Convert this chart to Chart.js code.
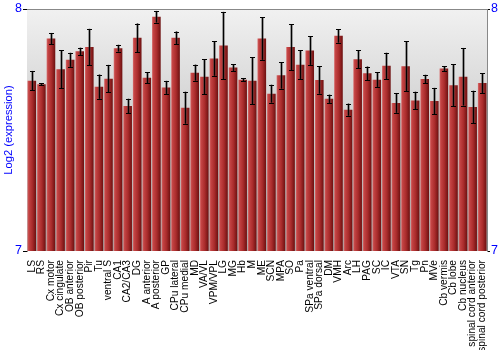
<!DOCTYPE html>
<html>
<head>
<meta charset="utf-8">
<script src="https://cdn.jsdelivr.net/npm/chart.js@4/dist/chart.umd.min.js"></script>
<style>
  body { margin: 0; background: #fff; }
  #wrap { width: 500px; height: 350px; }
</style>
</head>
<body>
<div id="wrap"><canvas id="chart" width="500" height="350"></canvas></div>
<script>
const regions = ["LS", "RS", "Cx motor", "Cx cingulate", "OB anterior", "OB posterior", "Pir", "Tu",
  "ventral S", "CA1", "CA2/CA3", "DG", "A anterior", "A posterior", "GP", "CPu lateral", "CPu medial",
  "MD", "VA/VL", "VPM/VPL", "LG", "MG", "Hb", "M", "ME", "SCN", "MPA", "SO", "Pa", "SPa ventral",
  "SPa dorsal", "DM", "VMH", "Arc", "LH", "PAG", "SC", "IC", "VTA", "SN", "Tg", "Pn", "MVe",
  "Cb vermis", "Cb lobe", "Cb nucleus", "spinal cord anterior", "spinal cord posterior"]

const expression = [7.704, 7.689, 7.878, 7.751, 7.790, 7.825, 7.843, 7.679,
  7.712, 7.838, 7.599, 7.881, 7.716, 7.968, 7.676, 7.881, 7.592,
  7.737, 7.720, 7.795, 7.849, 7.758, 7.708, 7.703, 7.878, 7.650, 7.726, 7.843, 7.770, 7.828,
  7.707, 7.629, 7.889, 7.584, 7.792, 7.734, 7.708, 7.765, 7.612, 7.763, 7.622, 7.711, 7.620,
  7.754, 7.685, 7.720, 7.595, 7.694]

const errors = [0.040, 0.005, 0.023, 0.078, 0.029, 0.015, 0.075, 0.050,
  0.057, 0.014, 0.030, 0.059, 0.023, 0.024, 0.027, 0.026, 0.066,
  0.033, 0.073, 0.071, 0.139, 0.014, 0.007, 0.097, 0.088, 0.037, 0.055, 0.095, 0.059, 0.059,
  0.057, 0.017, 0.028, 0.025, 0.037, 0.028, 0.030, 0.054, 0.041, 0.103, 0.036, 0.017, 0.054,
  0.010, 0.087, 0.119, 0.067, 0.041]

const yTicks = [7, 8]

const blue = "#0000ff"
const font = "'Liberation Sans', Arial, sans-serif"

// gray gradient behind the bars
const backdrop = {
  id: "backdrop",
  beforeDatasetsDraw(chart) {
    const { ctx, chartArea: a } = chart
    const g = ctx.createLinearGradient(0, a.top, 0, a.bottom)
    g.addColorStop(0, "#f1f1f1")
    g.addColorStop(1, "#a9a9a9")
    ctx.save()
    ctx.fillStyle = g
    ctx.fillRect(a.left, a.top, a.right - a.left, a.bottom - a.top)
    ctx.restore()
  }
}

const errorBars = {
  id: "errorBars",
  afterDatasetsDraw(chart) {
    const { ctx } = chart
    const y = chart.scales.y
    const meta = chart.getDatasetMeta(0)
    ctx.save()
    meta.data.forEach((bar, i) => {
      const x = Math.round(bar.x) + 0.5
      const hi = y.getPixelForValue(expression[i] + errors[i])
      const lo = y.getPixelForValue(expression[i] - errors[i])
      // soft gray shadow
      ctx.strokeStyle = "rgba(60,60,60,0.45)"
      ctx.lineWidth = 3
      ctx.beginPath()
      ctx.moveTo(x, hi); ctx.lineTo(x, lo)
      ctx.stroke()
      ctx.strokeStyle = "#000"
      ctx.lineWidth = 1
      ctx.beginPath()
      ctx.moveTo(x, hi); ctx.lineTo(x, lo)
      ctx.moveTo(x - 2.5, Math.round(hi) + 0.5); ctx.lineTo(x + 2.5, Math.round(hi) + 0.5)
      ctx.moveTo(x - 2.5, Math.round(lo) + 0.5); ctx.lineTo(x + 2.5, Math.round(lo) + 0.5)
      ctx.stroke()
    })
    ctx.restore()
  }
}

// gray line along the top of the plot
const topLine = {
  id: "topLine",
  afterDraw(chart) {
    const { ctx, chartArea: a } = chart
    ctx.save()
    ctx.strokeStyle = "#888"
    ctx.lineWidth = 1
    ctx.beginPath()
    ctx.moveTo(a.left, Math.round(a.top) + 0.5)
    ctx.lineTo(a.right, Math.round(a.top) + 0.5)
    ctx.stroke()
    ctx.restore()
  }
}

function barFill(context) {
  const chart = context.chart
  const a = chart.chartArea
  if (!a) return "#b03030"
  const step = (a.right - a.left) / regions.length
  const w = step * 0.9
  const cx = chart.scales.x.getPixelForValue(context.dataIndex)
  const g = chart.ctx.createLinearGradient(cx - w / 2, 0, cx + w / 2, 0)
  g.addColorStop(0, "#d87070")
  g.addColorStop(0.15, "#c44444")
  g.addColorStop(0.55, "#aa2c2c")
  g.addColorStop(1, "#6c1010")
  return g
}

new Chart("chart", {
  type: "bar",
  data: {
    labels: regions,
    datasets: [{
      data: expression,
      backgroundColor: barFill,
      borderWidth: 0,
      categoryPercentage: 1,
      barPercentage: 0.9
    }]
  },
  options: {
    responsive: false,
    animation: false,
    layout: { padding: { top: 9, left: 2, right: 0, bottom: 0 } },
    plugins: {
      legend: { display: false },
      tooltip: { enabled: false }
    },
    scales: {
      x: {
        grid: { display: false },
        border: { display: false },
        ticks: {
          autoSkip: false, maxRotation: 90, minRotation: 90, padding: 1,
          color: "#000", font: { family: font, size: 10.2 }
        },
        afterFit(s) { s.height = 99 }
      },
      y: {
        position: "left",
        min: 7, max: 8,
        afterBuildTicks(s) { s.ticks = yTicks.map(v => ({ value: v })) },
        grid: { drawOnChartArea: false, color: "#000", tickLength: 4 },
        border: { color: "#888" },
        ticks: { color: blue, padding: 1, font: { family: font, size: 12.5 } },
        title: { display: true, text: "Log2 (expression)", color: blue, padding: 0, font: { family: font, size: 11.2 } },
        afterFit(s) { s.width = 25 }
      },
      y2: {
        position: "right",
        min: 7, max: 8,
        afterBuildTicks(s) { s.ticks = yTicks.map(v => ({ value: v })) },
        grid: { drawOnChartArea: false, color: "#000", tickLength: 3 },
        border: { color: "#888" },
        ticks: { color: blue, padding: 1, font: { family: font, size: 12.5 } },
        afterFit(s) { s.width = 13 }
      }
    }
  },
  plugins: [backdrop, errorBars, topLine]
})
</script>
</body>
</html>
